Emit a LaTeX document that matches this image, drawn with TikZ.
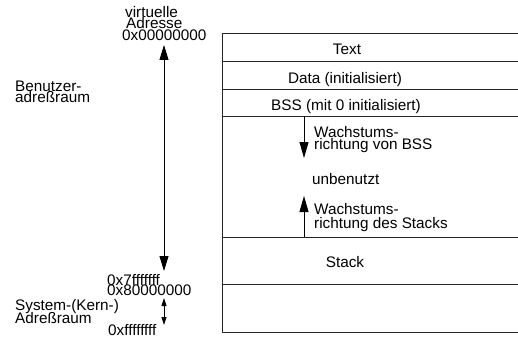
\documentclass[tikz,border=0pt]{standalone}
\usepackage{fontspec}
\setmainfont{Liberation Sans}
\usetikzlibrary{arrows.meta}
\begin{document}
\begin{tikzpicture}[x=1pt,y=-1pt,
  lbl/.style={inner sep=0pt,font=\fontsize{15.3}{12}\selectfont},
  lw/.style={lbl,anchor=base west},
  lc/.style={lbl,anchor=base},
  seg/.style={line width=0.9pt,draw=black!85},
  bigarrow/.style={line width=0.9pt,{Triangle[length=15pt,width=9pt]}-{Triangle[length=15pt,width=9pt]}},
  smallarrow/.style={line width=0.9pt,{Triangle[length=8pt,width=5pt]}-{Triangle[length=8pt,width=5pt]}},
  growarrow/.style={line width=0.9pt,-{Triangle[length=16pt,width=9pt]}}]
\useasboundingbox (0,0) rectangle (518,339);
% memory box
\coordinate (tl) at (222,33);
\coordinate (bl) at (222,332);
\draw[seg] (530,33) -- (tl) -- (bl) -- (530,332);
\foreach \y/\n in {61/a,89/b,116/c,237/d,284/e}
  \draw[seg] (222,\y) coordinate (l\n) -- (530,\y) coordinate (r\n);
% segment labels
\node[lc] (ttext) at (347,55) {Text};
\node[lc] (tdata) at (345,84) {Data (initialisiert)};
\node[lc] (tbss) at (346,111) {BSS (mit 0 initialisiert)};
\node[lc] (tstack) at (345,267) {Stack};
\node[lw] (tun) at (312,184) {unbenutzt};
\node[lw] (tw1) at (314,138) {Wachstums-};
\node[lw] (tw2) at (314,149.5) {richtung von BSS};
\node[lw] (tw3) at (314,214) {Wachstums-};
\node[lw] (tw4) at (314,228) {richtung des Stacks};
% growth arrows
\coordinate (bsstop) at (304,116);
\coordinate (bsstip) at (304,158);
\coordinate (stkbot) at (304,237);
\coordinate (stktip) at (304,196);
\draw[growarrow] (bsstop) -- (bsstip);
\draw[growarrow] (stkbot) -- (stktip);
% left labels
\node[lw] (v1) at (125,18) {virtuelle};
\node[lw] (v2) at (126,29) {Adresse};
\node[lw] (v3) at (122,40.5) {0x00000000};
\node[lw] (b1) at (15,91.5) {Benutzer-};
\node[lw] (b2) at (15,103) {adreßraum};
\node[lw] (k1) at (107,285) {0x7fffffff};
\node[lw] (k2) at (107,295) {0x80000000};
\node[lw] (s1) at (15,310) {System-(Kern-)};
\node[lw] (s2) at (15,323) {Adreßraum};
\node[lw] (k3) at (108,335) {0xffffffff};
% address arrows
\coordinate (ua) at (164,45);
\coordinate (ub) at (164,271);
\coordinate (sa) at (164,298);
\coordinate (sb) at (164,325);
\draw[bigarrow] (ua) -- (ub);
\draw[smallarrow] (sa) -- (sb);
\end{tikzpicture}
\end{document}
